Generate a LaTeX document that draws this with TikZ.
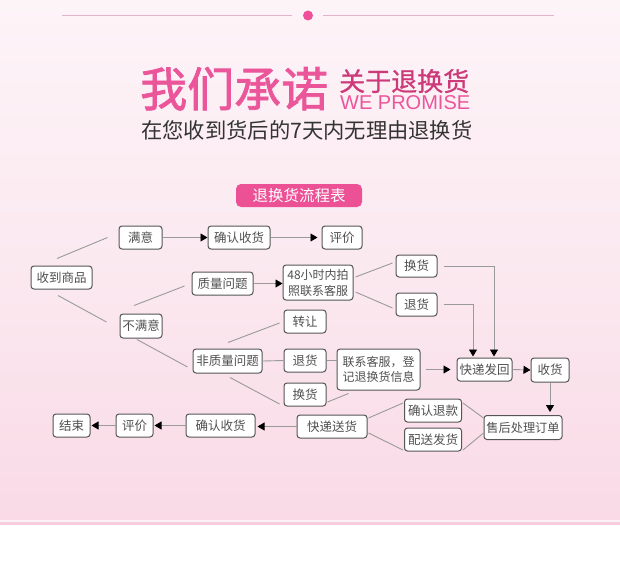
\documentclass[tikz,border=0pt]{standalone}
\usepackage{fontspec}
\newfontfamily\cjk{Noto Sans CJK SC}
\newfontfamily\cjktitle[FakeBold=1.6]{Noto Sans CJK SC}
\newfontfamily\cjkmid[FakeBold=0.9]{Noto Sans CJK SC}
\newfontfamily\latinsans{Liberation Sans}
\usetikzlibrary{arrows.meta,calc}
\definecolor{bgtop}{HTML}{FDF4F8}
\definecolor{bgmid}{HTML}{FBE9F0}
\definecolor{bgbot}{HTML}{F9DAE6}
\definecolor{hotpink}{HTML}{EB559A}
\definecolor{deeppink}{HTML}{CC3A79}
\definecolor{linepink}{HTML}{E2B4CC}
\definecolor{dotpink}{HTML}{F0509A}
\definecolor{boxpink}{HTML}{EC5196}
\definecolor{boxedge}{HTML}{555555}
\definecolor{boxtext}{HTML}{505050}
\definecolor{conn}{HTML}{9A9A9A}
\definecolor{subgray}{HTML}{333333}
\definecolor{stripe}{HTML}{F7CDDD}
\definecolor{stripelight}{HTML}{FCF0F5}
\begin{document}
\begin{tikzpicture}[x=1pt,y=-1pt,
  fbox/.style={draw=boxedge,line width=1pt,fill=white,rounded corners=3pt,inner sep=0pt,
    text=boxtext,font=\cjk\fontsize{12.5}{15}\selectfont,align=center},
  link/.style={draw=conn,line width=0.9pt},
  flow/.style={draw=conn,line width=0.9pt,-{Triangle[length=7pt,width=8pt,color=black]}},
  headtext/.style={inner sep=0pt,anchor=base west}
]
\useasboundingbox (0,0) rectangle (620,567);
% background
\shade[top color=bgtop,bottom color=bgbot,middle color=bgmid] (0,0) rectangle (620,519.5);
\fill[stripelight] (0,519.5) rectangle (620,521.5);
\fill[stripe] (0,521.5) rectangle (620,525);
\fill[white] (0,525) rectangle (620,567);

% top ornament
\node[circle,fill=dotpink,minimum size=10pt,inner sep=0pt] (dot) at (308,15.5) {};
\coordinate (lineL) at (62,15.5);
\coordinate (lineR) at (554,15.5);
\draw[linepink,line width=1pt] (lineL) -- ([xshift=-11pt]dot.west);
\draw[linepink,line width=1pt] ([xshift=10pt]dot.east) -- (lineR);

% titles
\node[headtext,text=hotpink,font=\cjktitle\fontsize{47}{47}\selectfont] (t1) at (140,106.5) {我们承诺};
\node[headtext,text=deeppink,font=\cjkmid\fontsize{26}{26}\selectfont] (t2) at (339,91) {关于退换货};
\node[headtext,text=hotpink,font=\latinsans\fontsize{20}{20}\selectfont] (t3) at (340,110) {WE PROMISE};
\node[headtext,text=subgray,font=\cjk\fontsize{21.3}{21.3}\selectfont] (t4) at (141,138) {在您收到货后的7天内无理由退换货};

\node[fill=boxpink,rounded corners=5pt,minimum width=126pt,minimum height=23pt,inner sep=0pt,
  text=white,font=\cjk\fontsize{15.5}{15.5}\selectfont] (tbl) at (299,195.5) {退换货流程表};

% flowchart nodes
\node[fbox,minimum width=61pt,minimum height=23pt] (recv) at (61.5,277.5) {收到商品};
\node[fbox,minimum width=43pt,minimum height=23pt] (sat) at (140.5,237.5) {满意};
\node[fbox,minimum width=62pt,minimum height=23pt] (conf1) at (239,237.5) {确认收货};
\node[fbox,minimum width=40pt,minimum height=23pt] (eval1) at (342,237.5) {评价};
\node[fbox,minimum width=61pt,minimum height=23pt] (qual) at (222.5,283.5) {质量问题};
\node[fbox,minimum width=70pt,minimum height=35pt,font=\cjk\fontsize{12}{16}\selectfont] (h48) at (318,282.5) {48小时内拍\\照联系客服};
\node[fbox,minimum width=41pt,minimum height=22pt] (swap1) at (416.5,266) {换货};
\node[fbox,minimum width=41pt,minimum height=23pt] (ret1) at (416.5,304.5) {退货};
\node[fbox,minimum width=42pt,minimum height=24pt] (unsat) at (141,326) {不满意};
\node[fbox,minimum width=42pt,minimum height=23pt] (trans) at (305,321.5) {转让};
\node[fbox,minimum width=69pt,minimum height=24pt] (nonq) at (227.5,361) {非质量问题};
\node[fbox,minimum width=42pt,minimum height=23pt] (ret2) at (305,360.5) {退货};
\node[fbox,minimum width=83pt,minimum height=41pt,font=\cjk\fontsize{12}{15}\selectfont] (contact) at (378.5,369.5) {联系客服，登\\记退换货信息};
\node[fbox,minimum width=42pt,minimum height=23pt] (swap2) at (305,394.5) {换货};
\node[fbox,minimum width=55pt,minimum height=23pt] (back) at (484.5,369.5) {快递发回};
\node[fbox,minimum width=38pt,minimum height=24pt] (got) at (550,370) {收货};
\node[fbox,minimum width=78pt,minimum height=24pt,font=\cjk\fontsize{12.2}{15}\selectfont] (proc) at (523,427.5) {售后处理订单};
\node[fbox,minimum width=57pt,minimum height=23pt] (refund) at (433,410.5) {确认退款};
\node[fbox,minimum width=57pt,minimum height=23pt] (ship) at (433,439.5) {配送发货};
\node[fbox,minimum width=70pt,minimum height=23pt] (send) at (332,426.5) {快递送货};
\node[fbox,minimum width=69pt,minimum height=23pt] (conf2) at (220.5,425.5) {确认收货};
\node[fbox,minimum width=37pt,minimum height=23pt] (eval2) at (134.5,425.5) {评价};
\node[fbox,minimum width=37pt,minimum height=23pt] (fin) at (71.5,425.5) {结束};

% plain links
\draw[link] ([xshift=-4.5pt,yshift=7pt]recv.north) -- ([xshift=-11pt]sat.west);
\draw[link] ([xshift=-3.5pt,yshift=-6pt]recv.south) -- ([xshift=-13pt,yshift=4pt]unsat.west);
\draw[link] ([xshift=-7pt,yshift=8pt]unsat.north) -- ([xshift=-7pt,yshift=-2.5pt]qual.west);
\draw[link] ([xshift=-4pt,yshift=-1pt]unsat.south) -- ([xshift=-5pt,yshift=-6pt]nonq.west);
\draw[link] ([xshift=0.5pt,yshift=6pt]nonq.north) -- ([xshift=-4pt,yshift=-1.5pt]trans.west);
\draw[link] (nonq.east) -- (ret2.west);
\draw[link] ([xshift=2.5pt,yshift=-4pt]nonq.south) -- ([xshift=-4pt,yshift=-9.5pt]swap2.west);
\draw[link] (ret2.east) -- (ret2.east -| contact.west);
\draw[link] ([xshift=1pt,yshift=-7.5pt]swap2.east) -- ([xshift=-30pt,yshift=-3pt]contact.south);
\draw[link] ([xshift=2pt,yshift=5.5pt]h48.east) -- ([xshift=-3pt,yshift=3pt]swap1.west);
\draw[link] ([xshift=2pt,yshift=-9.5pt]h48.east) -- ([xshift=-3pt,yshift=-3.5pt]ret1.west);
\draw[link] ([xshift=1pt,yshift=8.5pt]send.east) -- ([xshift=-1pt,yshift=7.5pt]refund.west);
\draw[link] ([xshift=1pt,yshift=-6.5pt]send.east) -- ([xshift=-1pt,yshift=-10.5pt]ship.west);
\draw[link] ([xshift=1pt,yshift=7.5pt]refund.east) -- ([yshift=9.5pt]proc.west);
\draw[link] ([xshift=1pt,yshift=-10.5pt]ship.east) -- ([yshift=-5.5pt]proc.west);

% arrows
\draw[flow] (sat.east) -- (conf1.west);
\draw[flow,shorten >=4pt] (conf1.east) -- (eval1.west);
\draw[flow] (qual.east) -- (qual.east -| h48.west);
\draw[flow,shorten >=1pt] ([xshift=6pt]swap1.east) -| ([xshift=9.5pt]back.north);
\draw[flow,shorten >=1pt] ([xshift=6pt]ret1.east) -| ([xshift=-11.5pt]back.north);
\draw[flow] ([xshift=5pt]contact.east) -- ([xshift=-6pt]back.west);
\draw[flow] (back.east) -- (got.west);
\draw[flow,shorten >=3pt] (got.south) -- (got.south |- proc.north);
\draw[flow,shorten >=2pt] (send.west) -- (send.west -| conf2.east);
\draw[flow,shorten >=1pt] (conf2.west) -- (eval2.east);
\draw[flow,shorten >=1pt] (eval2.west) -- (fin.east);
\end{tikzpicture}
\end{document}
